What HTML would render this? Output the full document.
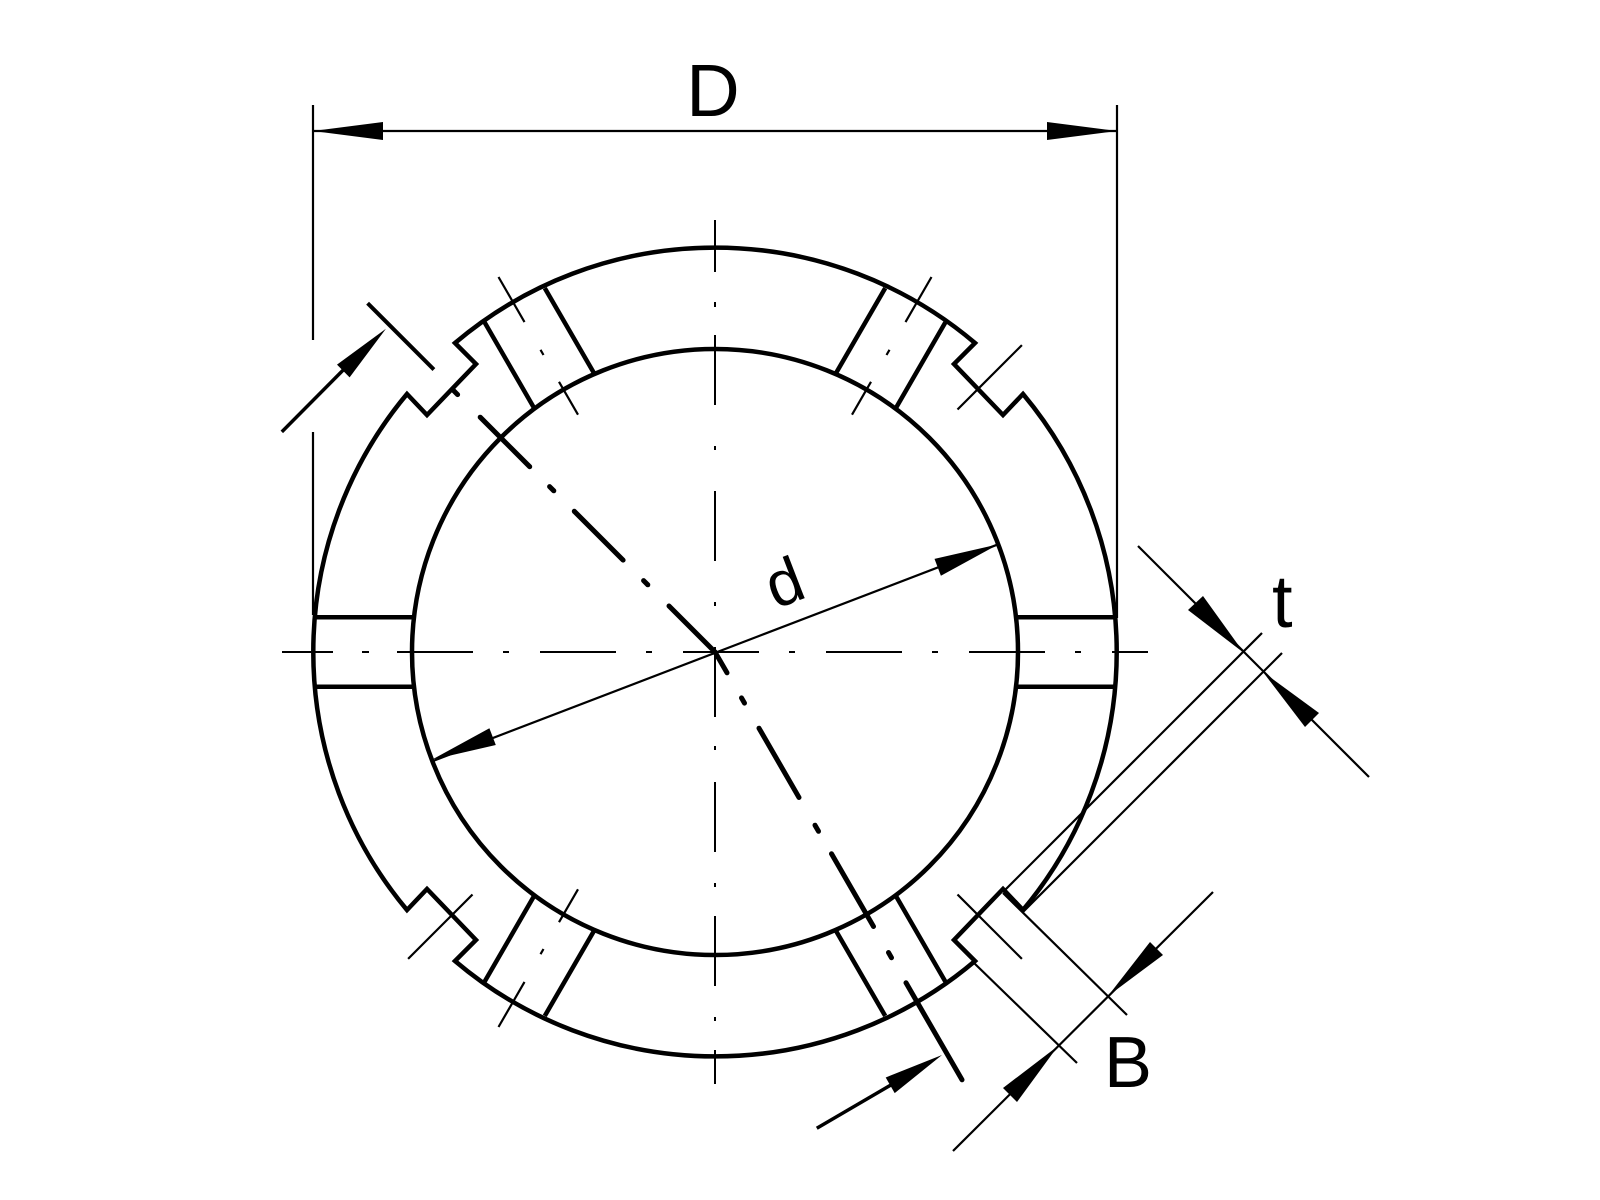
<!DOCTYPE html>
<html><head><meta charset="utf-8"><style>html,body{margin:0;padding:0;background:#fff}svg{display:block}</style></head>
<body>
<svg width="1600" height="1200" viewBox="0 0 1600 1200" xmlns="http://www.w3.org/2000/svg">
<rect width="1600" height="1200" fill="#fff"/>
<g fill="none" stroke="#000" stroke-linecap="butt">
<!-- outer ring with notches -->
<path stroke-width="4.5" stroke-linejoin="miter" d="M407,394 L427,415 L476,364 L455,343 A402,402 0 0 1 975,343 L954,364 L1003,415 L1023,394 A402,402 0 0 1 1023,910 L1003,889 L954,940 L975,961 A402,402 0 0 1 455,961 L476,940 L427,889 L407,910 A402,402 0 0 1 407,394 Z"/>
<circle cx="715" cy="652" r="303" stroke-width="4.5"/>
<!-- slots -->
<g stroke-width="4.5">
<line x1="314" y1="617.3" x2="414" y2="617.3"/><line x1="314" y1="686.7" x2="414" y2="686.7"/>
<line x1="1016" y1="617.3" x2="1116" y2="617.3"/><line x1="1016" y1="686.7" x2="1116" y2="686.7"/>
<line x1="895.5" y1="408.7" x2="945.3" y2="322.5"/><line x1="835.5" y1="374" x2="885.2" y2="288.1"/>
<line x1="534.5" y1="408.7" x2="484.7" y2="322.5"/><line x1="594.5" y1="374" x2="544.8" y2="288.1"/>
<line x1="895.5" y1="895.3" x2="945.3" y2="981.5"/><line x1="835.5" y1="930" x2="885.2" y2="1015.9"/>
<line x1="534.5" y1="895.3" x2="484.7" y2="981.5"/><line x1="594.5" y1="930" x2="544.8" y2="1015.9"/>
</g>
<!-- slot center ticks -->
<g stroke-width="2.2">
<line x1="905.5" y1="322.1" x2="931.5" y2="277"/><line x1="886.5" y1="355" x2="889.5" y2="349.8"/><line x1="852" y1="414.7" x2="871" y2="381.8"/>
<line x1="524.5" y1="322.1" x2="498.5" y2="277"/><line x1="543.5" y1="355" x2="540.5" y2="349.8"/><line x1="578" y1="414.7" x2="559" y2="381.8"/>
<line x1="524.5" y1="981.9" x2="498.5" y2="1027"/><line x1="543.5" y1="949" x2="540.5" y2="954.2"/><line x1="578" y1="889.3" x2="559" y2="922.2"/>
<!-- notch center lines -->
<line x1="957.5" y1="894.5" x2="1021.9" y2="958.9"/>
<line x1="957.5" y1="409.5" x2="1021.9" y2="345.1"/>
<line x1="472.5" y1="894.5" x2="408.1" y2="958.9"/>
</g>
<!-- axes -->
<g stroke-width="2">
<line x1="282" y1="652" x2="333" y2="652"/><line x1="362" y1="652" x2="369" y2="652"/>
<line x1="397" y1="652" x2="1148" y2="652" stroke-dasharray="76 30 6 31"/>
<line x1="715" y1="220" x2="715" y2="272"/><line x1="715" y1="302" x2="715" y2="307"/>
<line x1="715" y1="335" x2="715" y2="405"/><line x1="715" y1="446" x2="715" y2="450"/>
<line x1="715" y1="491" x2="715" y2="561"/><line x1="715" y1="602" x2="715" y2="606"/>
<line x1="715" y1="647" x2="715" y2="717"/><line x1="715" y1="746" x2="715" y2="750"/>
<line x1="715" y1="782" x2="715" y2="852"/><line x1="715" y1="883" x2="715" y2="887"/>
<line x1="715" y1="916" x2="715" y2="986"/><line x1="715" y1="1017" x2="715" y2="1021"/>
<line x1="715" y1="1050" x2="715" y2="1084"/>
</g>
<!-- thick dash-dot diagonal -->
<g stroke-width="5" stroke-linecap="round">
<line x1="715" y1="652" x2="669" y2="606"/>
<line x1="647.8" y1="584.8" x2="643.6" y2="580.6"/>
<line x1="623.1" y1="560.1" x2="574.3" y2="511.3"/>
<line x1="553.8" y1="490.8" x2="549.6" y2="486.6"/>
<line x1="529.7" y1="466.7" x2="480.2" y2="417.2"/>
<line x1="457.6" y1="394.6" x2="453.4" y2="390.4"/>
<line x1="715" y1="652" x2="727" y2="672.8"/>
<line x1="741.5" y1="697.9" x2="744.5" y2="703.1"/>
<line x1="759" y1="728.2" x2="799" y2="797.5"/>
<line x1="815" y1="825.2" x2="818.5" y2="831.3"/>
<line x1="831.5" y1="853.8" x2="873.5" y2="926.5"/>
<line x1="888.5" y1="952.5" x2="891.5" y2="957.7"/>
<line x1="906" y1="982.8" x2="962" y2="1079.8"/>
</g>
<!-- extension line TL -->
<line x1="367.6" y1="303.2" x2="433.9" y2="369.6" stroke-width="4"/>
<!-- D dimension -->
<g stroke-width="2.2">
<line x1="313" y1="105" x2="313" y2="340"/><line x1="313" y1="432" x2="313" y2="615"/>
<line x1="1117" y1="105" x2="1117" y2="618"/>
<line x1="313" y1="131" x2="1117" y2="131"/>
<line x1="434" y1="760.6" x2="998.5" y2="544.2"/>
<!-- t -->
<line x1="1138" y1="546" x2="1369" y2="777"/>
<line x1="1262" y1="633" x2="1003" y2="892"/>
<line x1="1282" y1="653" x2="1023" y2="912"/>
<!-- B -->
<line x1="1213" y1="892" x2="953" y2="1151"/>
<line x1="1003" y1="893" x2="1127" y2="1015"/>
<line x1="973" y1="962" x2="1077" y2="1063"/>
</g>
<g stroke-width="3.5">
<line x1="281.8" y1="431.9" x2="370" y2="343"/>
<line x1="816.8" y1="1128.2" x2="920" y2="1068"/>
</g>
</g>
<!-- arrowheads -->
<g fill="#000" stroke="none">
<polygon points="313,131 383,122 383,140"/>
<polygon points="1117,131 1047,122 1047,140"/>
<polygon points="998.5,544.2 940.9,575.7 934.5,558.9"/>
<polygon points="431.8,759.7 495.8,745 489.4,728.2"/>
<polygon points="385.9,328.8 349.6,377.4 337,364.6"/>
<polygon points="942,1055 894.7,1093.1 885.7,1077.5"/>
<polygon points="1244,653 1188,610 1203,596"/>
<polygon points="1263,672 1305,727 1319,713"/>
<polygon points="1108,996 1150,942 1163,955"/>
<polygon points="1058,1046 1003,1088 1017,1102"/>
</g>
<g font-family="Liberation Sans, sans-serif" fill="#000">
<text x="713" y="116" font-size="74" text-anchor="middle">D</text>
<text transform="translate(792,603) rotate(-21)" font-size="64" text-anchor="middle">d</text>
<text x="1272" y="627" font-size="74">t</text>
<text x="1104" y="1087" font-size="72">B</text>
</g>
</svg>
</body></html>
